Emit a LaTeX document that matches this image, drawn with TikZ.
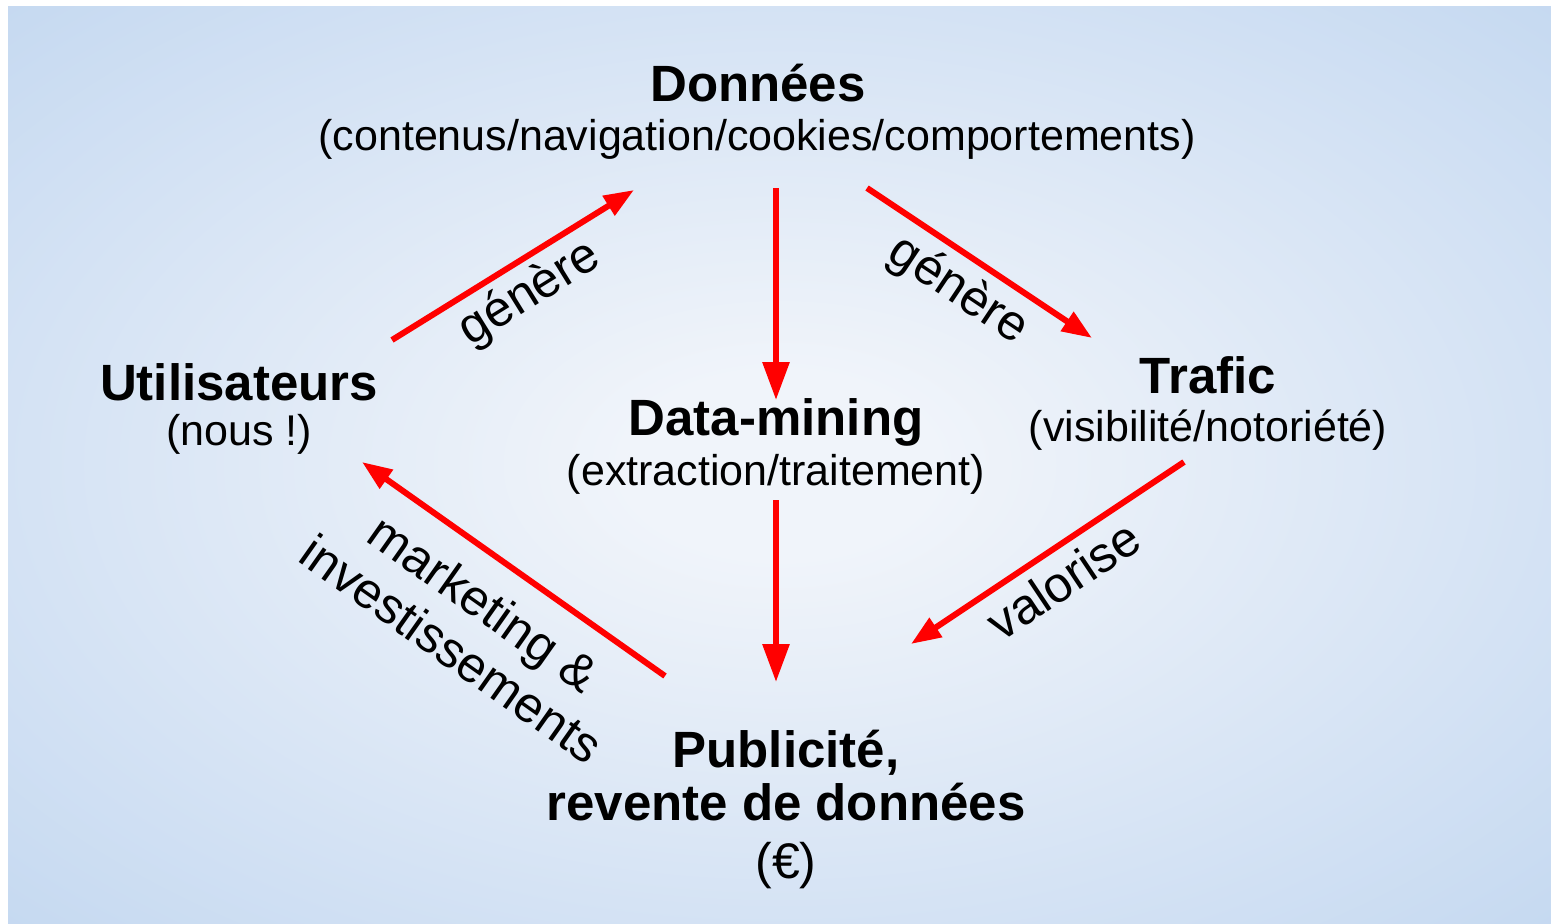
\documentclass[tikz,border=0pt]{standalone}
\usepackage{fontspec}
\setmainfont{Liberation Sans}
\usetikzlibrary{arrows.meta}
\definecolor{bgedge}{RGB}{180,206,237}
\definecolor{bgmid}{RGB}{240,244,250}
\definecolor{arrred}{RGB}{255,0,0}
\pgfdeclareradialshading{bgshade}{\pgfpoint{0bp}{0bp}}{color(0bp)=(bgmid); color(5bp)=(bgmid); color(48bp)=(bgedge); color(80bp)=(bgedge)}
\tikzset{
  title/.style={font=\fontsize{51}{58}\selectfont\bfseries, inner sep=0pt, anchor=base},
  sub/.style={font=\fontsize{43}{50}\selectfont, inner sep=0pt, anchor=base},
  lbl/.style={font=\fontsize{50}{56}\selectfont, inner sep=0pt, align=center},
  flow/.style={draw=arrred, line width=6pt, -{Triangle[length=30pt,width=22pt]}},
  bigflow/.style={draw=arrred, line width=6pt, -{Triangle[length=38pt,width=26pt]}},
}
\begin{document}
\begin{tikzpicture}[x=1pt,y=-1pt]
\useasboundingbox (0,0) rectangle (1551,924);
\fill[white] (0,0) rectangle (1551,924);
\shade[shading=bgshade] (8,6) rectangle (1551,924);
% nodes
\node[title] (don) at (758,101) {Données};
\node[sub] (donsub) at (757,150) {(contenus/navigation/cookies/comportements)};
\node[title] (uti) at (239,400) {Utilisateurs};
\node[sub] (utisub) at (239,445) {(nous !)};
\node[title] (dm) at (776,435) {Data-mining};
\node[sub] (dmsub) at (776,485) {(extraction/traitement)};
\node[title] (tra) at (1208,393) {Trafic};
\node[sub] (trasub) at (1208,441) {(visibilité/notoriété)};
\node[title] (pub1) at (786,767) {Publicité,};
\node[title] (pub2) at (786,820) {revente de données};
\node[sub, font=\fontsize{50}{56}\selectfont] (pub3) at (786,878) {(€)};
% arrow end points
\coordinate (a1s) at (392,340); \coordinate (a1e) at (634,190);
\coordinate (a2s) at (776,188); \coordinate (a2e) at (776,400);
\coordinate (a3s) at (867,188); \coordinate (a3e) at (1092,338);
\coordinate (a4s) at (776,500); \coordinate (a4e) at (776,682);
\coordinate (a5s) at (1184,462); \coordinate (a5e) at (911,644);
\coordinate (a6s) at (665,676); \coordinate (a6e) at (362,462);
\draw[flow] (a1s) -- (a1e);
\draw[bigflow] (a2s) -- (a2e);
\draw[flow] (a3s) -- (a3e);
\draw[bigflow] (a4s) -- (a4e);
\draw[flow] (a5s) -- (a5e);
\draw[flow] (a6s) -- (a6e);
% labels
\node[lbl, rotate=31.8] (l1) at (530,294) {génère};
\node[lbl, rotate=-33.7] (l3) at (958,291) {génère};
\node[lbl, rotate=33.7] (l5) at (1063,580) {valorise};
\node[lbl, rotate=-35.2] (l6) at (468,626) {marketing \&\\investissements};
\end{tikzpicture}
\end{document}
